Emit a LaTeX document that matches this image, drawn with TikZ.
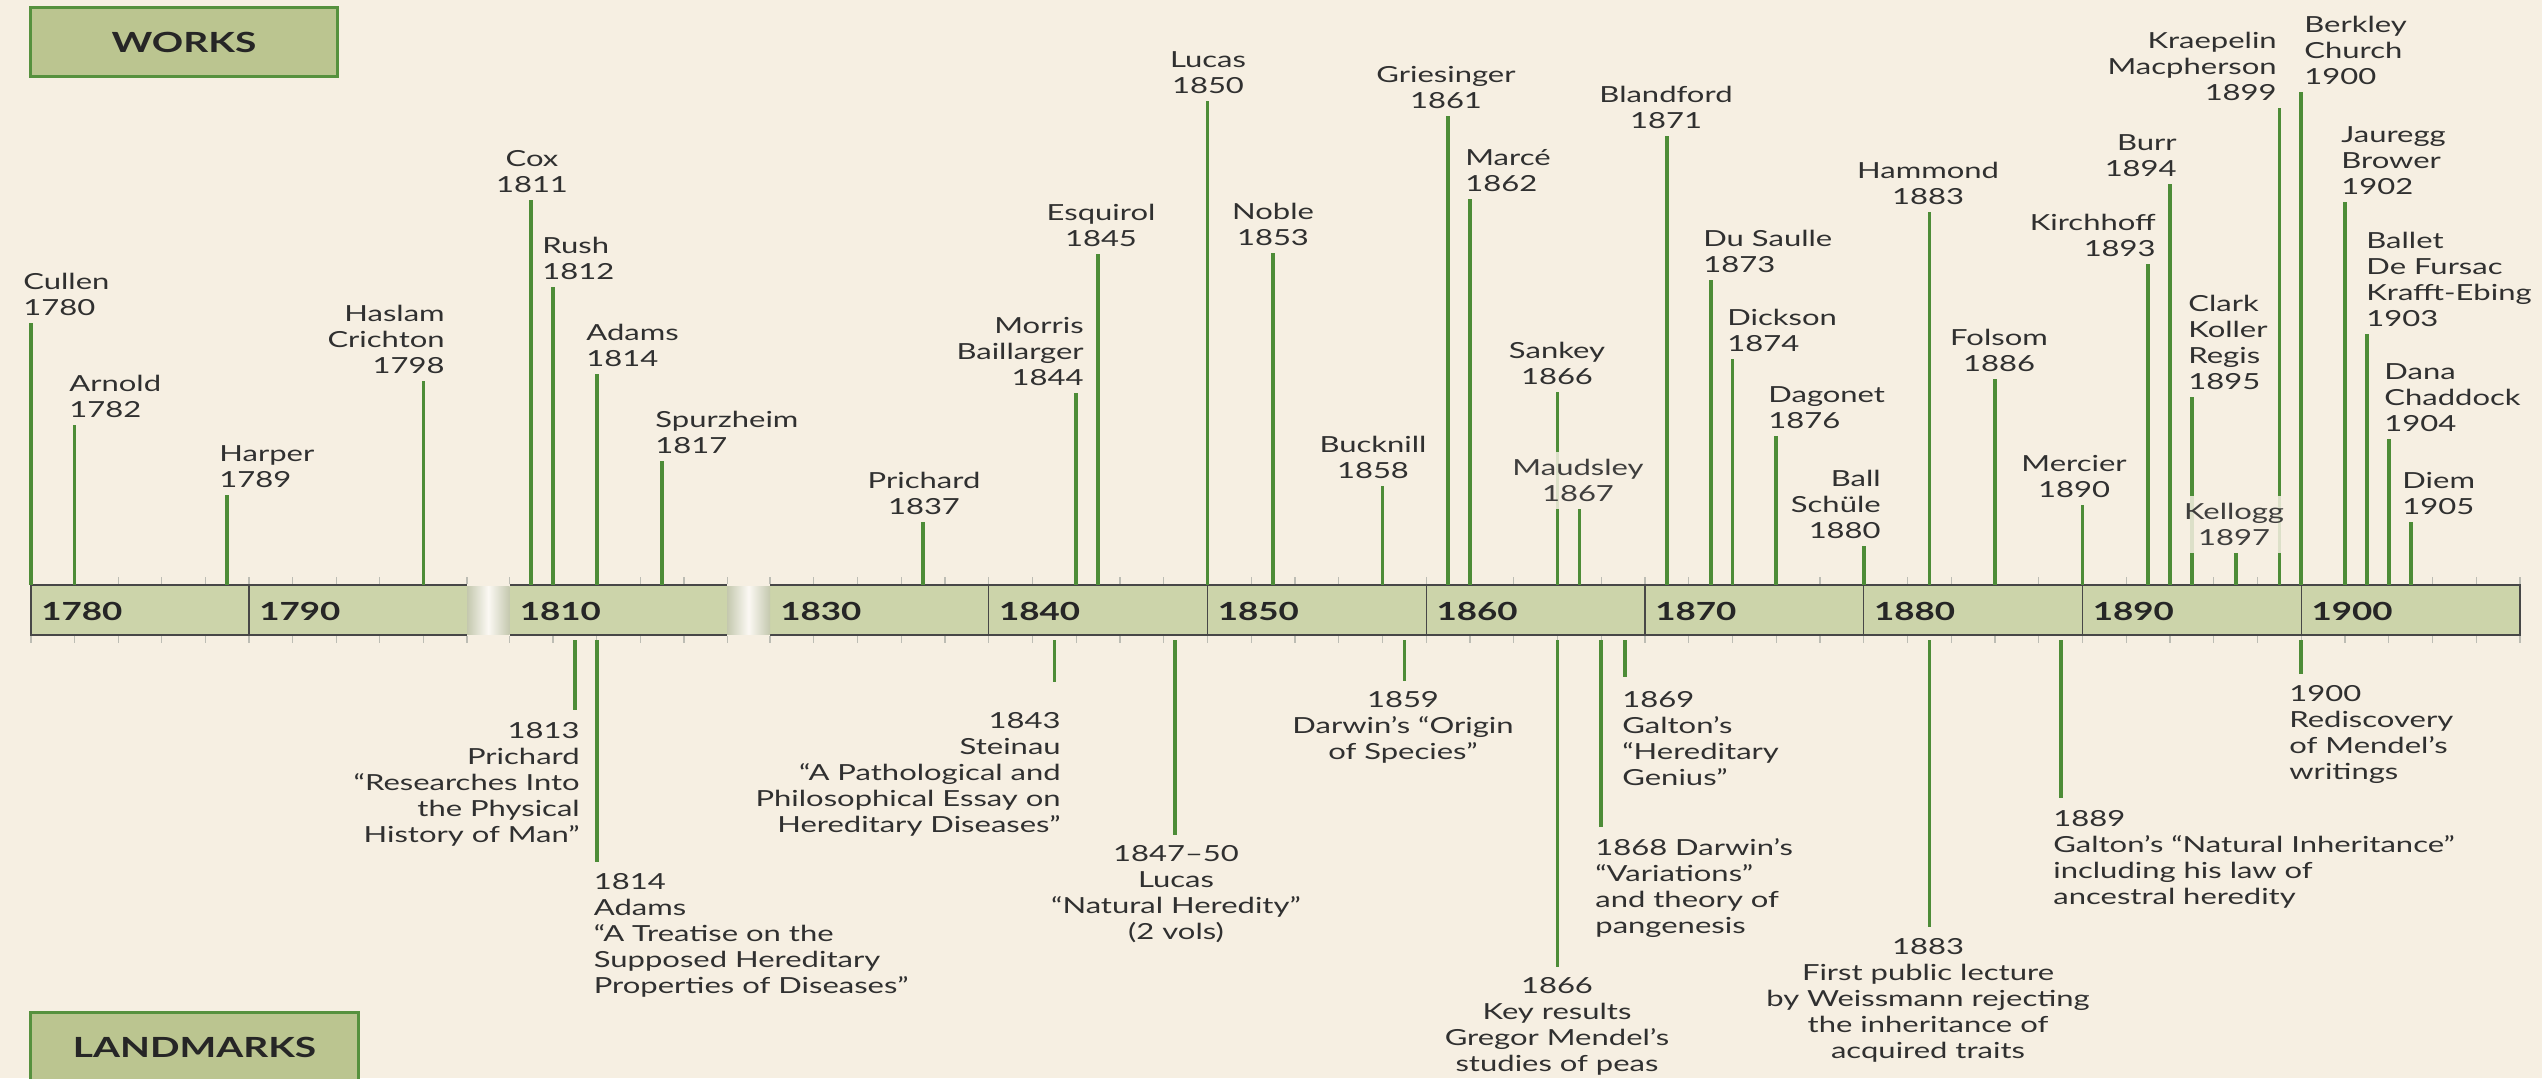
\documentclass[tikz,border=0pt]{standalone}
\usepackage{fontspec}
\setmainfont{Lato}[FakeStretch=1.4]
\usetikzlibrary{calc,math}
\definecolor{bgc}{HTML}{F6EFE2}
\definecolor{barc}{HTML}{CCD4AA}
\definecolor{gapc}{HTML}{C4C8AE}
\definecolor{boxc}{HTML}{BBC590}
\definecolor{boxline}{HTML}{56913E}
\definecolor{stemc}{HTML}{4D8C37}
\definecolor{edgec}{HTML}{474747}
\definecolor{tickc}{HTML}{BDBDB4}
\definecolor{txtc}{HTML}{303030}

\pgfmathdeclarefunction{yrx}{1}{\pgfmathparse{#1<1805 ? 31+(#1-1780)*21.8 : (#1<1825 ? 509.5+(#1-1810)*21.8 : 770+(#1-1830)*21.875)}}

\tikzset{
  stem/.style={draw=stemc,line width=0.75mm},
  lbl/.style={inner sep=0pt,text=txtc,font=\fontsize{12.6}{14.8}\selectfont},
  wl/.style={anchor=south west,align=left},
  wr/.style={anchor=south east,align=right},
  wc/.style={anchor=south,align=center},
  wf/.style={wc,fill=bgc,fill opacity=.85,text opacity=.92,inner xsep=1.2mm,inner ysep=1.4mm,yshift=-1.4mm},
  ll/.style={anchor=north west,align=left},
  lr/.style={anchor=north east,align=right},
  lc/.style={anchor=north,align=center},
  decade/.style={inner sep=0pt,anchor=west,text=black!85,font=\fontsize{14.2}{17}\selectfont\bfseries},
  headbox/.style={draw=boxline,line width=0.6mm,fill=boxc,text=black!85,font=\fontsize{15.8}{18}\selectfont\bfseries}
}

\def\works{%
1780/323/wl/23/{Cullen\\1780},
1782/425/wl/69/{Arnold\\1782},
1789/495/wl/219/{Harper\\1789},
1798/381/wr/445/{Haslam\\Crichton\\1798},
1811/200/wc/532/{Cox\\1811},
1812/287/wl/542/{Rush\\1812},
1814/374/wl/586/{Adams\\1814},
1817/461/wl/655/{Spurzheim\\1817},
1837/522/wc/924/{Prichard\\1837},
1844/393/wr/1084/{Morris\\Baillarger\\1844},
1845/254/wc/1101/{Esquirol\\1845},
1850/101/wc/1208/{Lucas\\1850},
1853/253/wc/1273/{Noble\\1853},
1858/486/wc/1373/{Bucknill\\1858},
1861/116/wc/1446/{Griesinger\\1861},
1862/199/wl/1465/{Marcé\\1862},
1866/392/wc/1557/{Sankey\\1866},
1871/136/wc/1666/{Blandford\\1871},
1873/280/wl/1703/{Du Saulle\\1873},
1874/359/wl/1727/{Dickson\\1874},
1876/436/wl/1768/{Dagonet\\1876},
1880/546/wr/1881/{Ball\\Schüle\\1880},
1883/212/wc/1928/{Hammond\\1883},
1886/379/wc/1999/{Folsom\\1886},
1890/505/wc/2074/{Mercier\\1890},
1893/264/wr/2156/{Kirchhoff\\1893},
1894/184/wr/2177/{Burr\\1894},
1895/397/wl/2188/{Clark\\Koller\\Regis\\1895},
1899/108/wr/2277/{Kraepelin\\Macpherson\\1899},
1900/92/wl/2304/{Berkley\\Church\\1900},
1902/202/wl/2341/{Jauregg\\Brower\\1902},
1903/334/wl/2366/{Ballet\\De Fursac\\Krafft-Ebing\\1903},
1904/439/wl/2384/{Dana\\Chaddock\\1904},
1905/522/wl/2402/{Diem\\1905},
1867/509/wf/1578/{Maudsley\\1867},
1897/553/wf/2234/{Kellogg\\1897}}

\def\marks{%
1813/710/lr/580/722/{1813\\Prichard\\“Researches Into\\the Physical\\History of Man”},
1814/862/ll/593.5/873/{1814\\Adams\\“A Treatise on the\\Supposed Hereditary\\Properties of Diseases”},
1843/682/lr/1061/712/{1843\\Steinau\\“A Pathological and\\Philosophical Essay on\\Hereditary Diseases”},
1848.5/835/lc/1176/845/{1847–50\\Lucas\\“Natural Heredity”\\(2 vols)},
1859/681/lc/1403/691/{1859\\Darwin’s “Origin\\of Species”},
1866/967/lc/1557/977/{1866\\Key results\\Gregor Mendel’s\\studies of peas},
1868/827/ll/1595/838/{1868 Darwin’s\\“Variations”\\and theory of\\pangenesis},
1869.1/677/ll/1622/691/{1869\\Galton’s\\“Hereditary\\Genius”},
1883/927/lc/1928/938/{1883\\First public lecture\\by Weissmann rejecting\\the inheritance of\\acquired traits},
1889/798/ll/2053/810/{1889\\Galton’s “Natural Inheritance”\\including his law of\\ancestral heredity},
1900/674/ll/2289/685/{1900\\Rediscovery\\of Mendel’s\\writings}}

\begin{document}
\begin{tikzpicture}[x=0.2mm,y=-0.2mm]
\useasboundingbox (0,0) rectangle (2542,1078);
\fill[bgc] (0,0) rectangle (2542,1078);
\clip (0,0) rectangle (2542,1078);

\foreach \a/\b in {31/467,509.5/727,770/2520}{
  \fill[barc] (\a,585) rectangle (\b,635);
  \draw[edgec,line width=0.45mm] (\a,585) -- (\b,585) (\a,635) -- (\b,635);
}
\foreach \a/\b in {467/509.5,727/770}
  \shade[left color=gapc,right color=gapc,middle color=bgc!40!white] (\a,586) rectangle (\b,634);
\draw[edgec,line width=0.45mm] (31,584) -- (31,636) (2520,584) -- (2520,636);
\foreach \d in {1790,1840,1850,...,1900}{
  \pgfmathsetmacro\dx{yrx(\d)}
  \draw[edgec,line width=0.25mm] (\dx,585) -- (\dx,635);
}
\foreach \s/\e in {1780/1800,1810/1820,1830/1910}{
  \pgfmathtruncatemacro\n{\s+2}
  \foreach \t in {\s,\n,...,\e}{
    \pgfmathsetmacro\tx{yrx(\t)}
    \draw[tickc,line width=0.25mm] (\tx,577) -- (\tx,584) (\tx,636) -- (\tx,643);
  }
}
\foreach \d in {1780,1790,1810,1830,1840,1850,...,1900}
  \node[decade] (d\d) at ({yrx(\d)+10},611) {\d};

\node[headbox,minimum width=61.2mm,minimum height=13.6mm] (works) at (184,42) {WORKS};
\node[headbox,minimum width=65.4mm,minimum height=14mm] (landmarks) at (194.5,1047) {LANDMARKS};

\foreach \yr/\ty/\al/\lx/\txt [count=\i] in \works{
  \pgfmathsetmacro\xx{yrx(\yr)}
  \coordinate (wb\i) at (\xx,585);
  \coordinate (wt\i) at (\xx,\ty);
  \draw[stem] (wb\i) -- (wt\i);
}
\foreach \yr/\ty/\al/\lx/\txt [count=\i] in \works
  \node[lbl,\al] (w\i) at (\lx,\ty-7) {\txt};

\foreach \yr/\ey/\al/\lx/\ty/\txt [count=\i] in \marks{
  \pgfmathsetmacro\xx{yrx(\yr)}
  \coordinate (lb\i) at (\xx,640);
  \coordinate (le\i) at (\xx,\ey);
  \draw[stem] (lb\i) -- (le\i);
  \node[lbl,\al] (l\i) at (\lx,\ty) {\txt};
}
\end{tikzpicture}
\end{document}
